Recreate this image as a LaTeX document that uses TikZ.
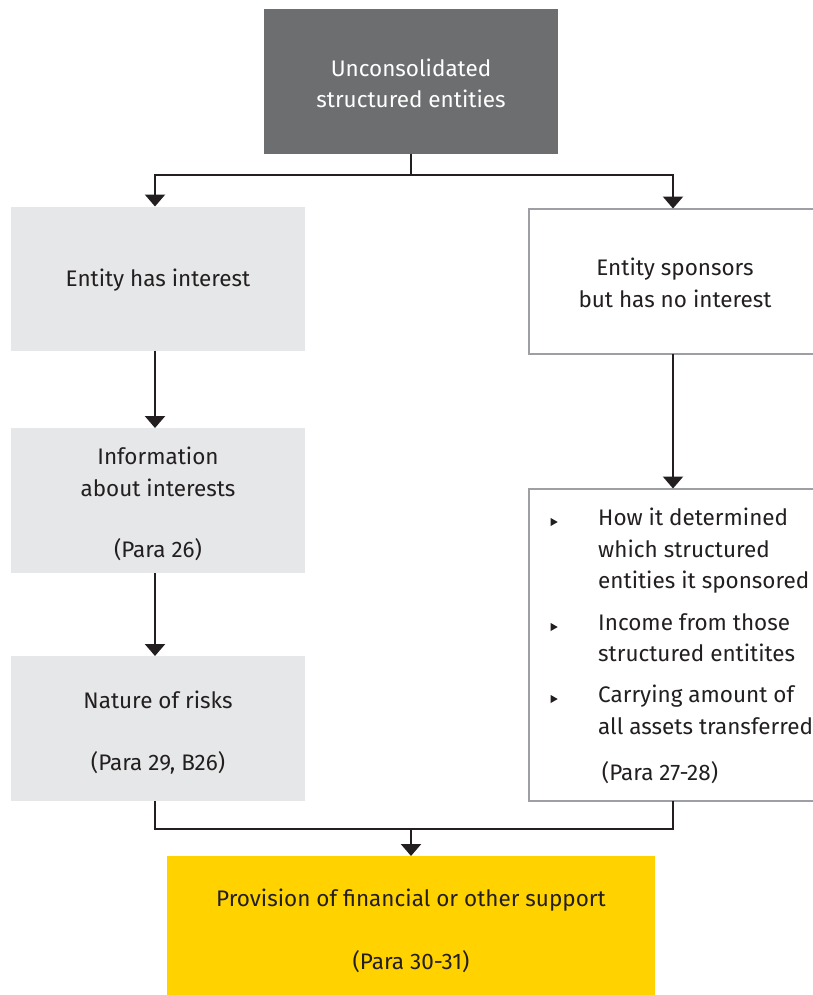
\documentclass[tikz,border=0pt]{standalone}
\usepackage{fontspec}
\setmainfont{Fira Sans}
\usetikzlibrary{arrows.meta,shapes.geometric}
\definecolor{darkbox}{HTML}{6D6E70}
\definecolor{lightbox}{HTML}{E6E7E8}
\definecolor{edgegray}{HTML}{9D9FA2}
\definecolor{eyyellow}{HTML}{FFD200}
\definecolor{ink}{HTML}{231F20}
\tikzset{
  box/.style={rectangle, inner sep=0pt, outer sep=0pt},
  graybox/.style={box, fill=lightbox, minimum width=294pt, minimum height=144pt},
  whitebox/.style={box, draw=edgegray, line width=2pt, fill=white},
  txt/.style={text=ink, font=\fontsize{22.5}{31.5}\selectfont, align=center, inner sep=0pt},
  conn/.style={draw=ink, line width=2.4pt},
  arr/.style={conn, -{Triangle[width=20pt,length=12pt]}},
  bulletmark/.style={fill=ink, isosceles triangle, isosceles triangle apex angle=60, inner sep=0pt, minimum size=7pt},
}
\begin{document}
\begin{tikzpicture}[x=1pt,y=-1pt]
\useasboundingbox (0,0) rectangle (812,995);
% top box
\node[box, fill=darkbox, minimum width=294pt, minimum height=145pt] (top) at (411,81.5) {};
\node[txt, text=white] (toptxt) at (411,83.5) {Unconsolidated\\structured entities};
% left column
\node[graybox] (l1) at (158,278.5) {};
\node[txt] (l1t) at (158,280) {Entity has interest};
\node[graybox, minimum height=145pt] (l2) at (158,500.5) {};
\node[txt] (l2t) at (158,472) {Information\\about interests};
\node[txt] (l2p) at (158,550) {(Para 26)};
\node[graybox, minimum height=145pt] (l3) at (158,728.5) {};
\node[txt] (l3t) at (158,700) {Nature of risks};
\node[txt] (l3p) at (158,763) {(Para 29, B26)};
% right column
\node[whitebox, minimum width=292pt, minimum height=145pt] (r1) at (675,281) {};
\node[txt] (r1t) at (675,283) {Entity sponsors\\but has no interest};
\node[whitebox, minimum width=292pt, minimum height=312pt] (r2) at (675,644.5) {};
\node[txt, align=left, anchor=north west] (b1) at (598,508) {How it determined\\which structured\\entities it sponsored};
\node[txt, align=left, anchor=north west] (b2) at (598,613) {Income from those\\structured entitites};
\node[txt, align=left, anchor=north west] (b3) at (598,685) {Carrying amount of\\all assets transferred};
\node[txt] (r2p) at (660,773) {(Para 27-28)};
\node[bulletmark] (m1) at (553,522) {};
\node[bulletmark] (m2) at (553,627) {};
\node[bulletmark] (m3) at (553,699) {};
% bottom box
\node[box, fill=eyyellow, minimum width=488pt, minimum height=140pt] (bot) at (411,926) {};
\node[txt] (bt) at (411,900) {Provision of financial or other support};
\node[txt] (bp) at (411,962) {(Para 30-31)};
% connectors
\coordinate (split) at (411,175);
\coordinate (join) at (411,829);
\draw[conn] (top.south) -- (split);
\draw[arr] (split) -| (l1.north -| 155,0);
\draw[arr] (split) -| (r1.north -| 673,0);
\draw[arr] (l1.south -| 155,0) -- (l2.north -| 155,0);
\draw[arr] (l2.south -| 155,0) -- (l3.north -| 155,0);
\draw[arr] (r1.south -| 673,0) -- (r2.north -| 673,0);
\draw[conn] (l3.south -| 155,0) |- (join);
\draw[conn] (r2.south -| 673,0) |- (join);
\draw[arr] (join) -- (bot.north);
\end{tikzpicture}
\end{document}
